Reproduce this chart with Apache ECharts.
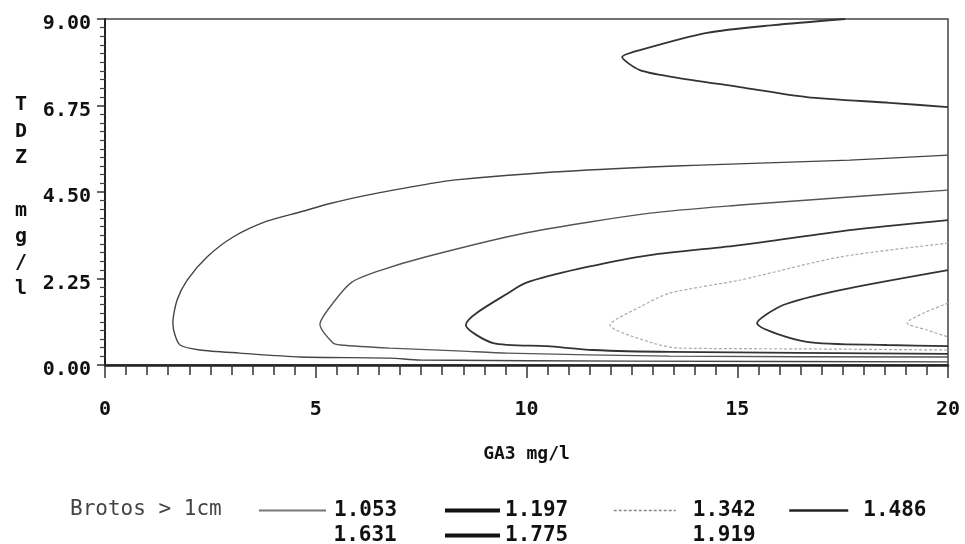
<!DOCTYPE html>
<html>
<head>
<meta charset="utf-8">
<script src="https://cdn.jsdelivr.net/npm/echarts@6/dist/echarts.min.js"></script>
<style>
html,body{margin:0;padding:0;background:#fff;}
#chart{width:965px;height:544px;}
</style>
</head>
<body>
<div id="chart"></div>
<script>
// ---- data ----
const levels = ['1.053', '1.197', '1.342', '1.486', '1.631', '1.775', '1.919'];
const xTicks = [0, 5, 10, 15, 20];
const yTicks = [0, 2.25, 4.5, 6.75, 9];

// contour lines, [GA3 mg/l, TDZ mg/l]
const c1053 = [[17.56,9.0],[15.85,8.84],[14.28,8.64],[12.69,8.19],[12.27,8.01],[12.69,7.67],[13.48,7.49],[15.07,7.23],[16.65,6.97],[18.62,6.82],[20,6.71]];
const c1197 = [[20,5.46],[17.67,5.33],[14.12,5.20],[12.93,5.15],[10.63,5.02],[8.26,4.81],[7.78,4.73],[6.22,4.42],[5.34,4.20],[4.63,3.98],[3.84,3.74],[3.04,3.33],[2.42,2.81],[1.95,2.21],[1.71,1.69],[1.61,1.09],[1.66,0.78],[1.78,0.52],[2.25,0.39],[3.20,0.31],[4.63,0.21],[6.76,0.18],[7.47,0.13],[12.53,0.10],[20,0.08]];
const c1342 = [[20,4.55],[17.67,4.37],[15.07,4.16],[12.93,3.95],[10.0,3.44],[7.60,2.81],[6.50,2.45],[5.85,2.15],[5.40,1.60],[5.10,1.06],[5.41,0.57],[5.58,0.52],[6.76,0.44],[8.49,0.36],[9.54,0.31],[13.40,0.23],[20,0.21]];
const c1486 = [[20,3.77],[17.67,3.51],[15.07,3.12],[12.93,2.86],[11.44,2.55],[10.1,2.18],[9.68,1.95],[8.56,1.04],[9.21,0.57],[10.49,0.49],[11.58,0.39],[13.40,0.34],[20,0.29]];
const c1631 = [[20,3.17],[17.44,2.81],[15.07,2.21],[13.40,1.87],[12.69,1.51],[11.98,1.04],[13.00,0.57],[13.64,0.44],[16.49,0.42],[20,0.39]];
const c1775 = [[20,2.47],[17.44,1.95],[16.09,1.56],[15.47,1.09],[16.65,0.60],[18.55,0.52],[20,0.49]];
const c1919 = [[20,1.61],[19.03,1.09],[19.50,0.91],[20,0.73]];
const contours = [c1053, c1197, c1342, c1486, c1631, c1775, c1919];

// ---- styles ----
const mono = 'DejaVu Sans Mono';
const lineStyles = [
  {color:'#333', width:1.8, type:'solid'},
  {color:'#444', width:1.4, type:'solid'},
  {color:'#555', width:1.4, type:'solid'},
  {color:'#333', width:1.8, type:'solid'},
  {color:'#aaa', width:1.2, type:[3,2]},
  {color:'#333', width:1.8, type:'solid'},
  {color:'#aaa', width:1.2, type:[3,2]}
];
const legendIcon = [
  {color:'#777', width:2, type:'solid', opacity:1},
  {color:'#111', width:4, type:'solid', opacity:1},
  {color:'#888', width:1.5, type:[3,2], opacity:1},
  {color:'#222', width:2.5, type:'solid', opacity:1},
  {color:'#fff', width:1, type:'solid', opacity:0},
  {color:'#111', width:4, type:'solid', opacity:1},
  {color:'#fff', width:1, type:'solid', opacity:0}
];
const legendPos = [
  {left:258, top:500, w:67, pad:3},
  {left:443, top:500, w:55, pad:0},
  {left:613, top:500, w:62, pad:12},
  {left:788, top:500, w:59, pad:10},
  {left:258, top:525, w:67, pad:3},
  {left:443, top:525, w:55, pad:0},
  {left:613, top:525, w:62, pad:12}
];

const chart = echarts.init(document.getElementById('chart'), null, {renderer:'canvas'});

const series = levels.map((lv, i) => ({
  name: lv,
  type: 'line',
  data: contours[i],
  symbol: 'none',
  showSymbol: false,
  smooth: 0.25,
  color: lineStyles[i].color,
  lineStyle: lineStyles[i],
  z: 3
}));

const legends = levels.map((lv, i) => ({
  data: [{name: lv, lineStyle: legendIcon[i], itemStyle: {opacity: 0}}],
  left: legendPos[i].left,
  top: legendPos[i].top,
  itemWidth: legendPos[i].w,
  itemHeight: 14,
  padding: 0,
  selectedMode: false,
  textStyle: {fontFamily: mono, fontWeight: 'bold', fontSize: 21, color: '#111', padding: [0,0,0,legendPos[i].pad]}
}));

chart.setOption({
  backgroundColor: '#fff',
  animation: false,
  grid: {left:105, right:17, top:19, bottom:179, show:true, borderColor:'#444', borderWidth:1.5, backgroundColor:'transparent'},
  xAxis: {
    type:'value', min:xTicks[0], max:xTicks[xTicks.length-1], interval:5,
    name:'GA3 mg/l', nameLocation:'middle', nameGap:80,
    nameTextStyle:{fontFamily:mono, fontSize:18, fontWeight:'bold', color:'#111'},
    axisLine:{show:true, onZero:false, lineStyle:{color:'#222', width:2.5}},
    axisTick:{show:true, inside:false, length:13, lineStyle:{color:'#333', width:1.5}},
    minorTick:{show:true, splitNumber:10, length:10, lineStyle:{color:'#333', width:1.5}},
    splitLine:{show:false},
    axisLabel:{margin:35, fontFamily:mono, fontWeight:'bold', fontSize:20, color:'#111',
      formatter: v => String(v)}
  },
  yAxis: {
    type:'value', min:yTicks[0], max:yTicks[yTicks.length-1], interval:2.25,
    axisLine:{show:true, onZero:false, lineStyle:{color:'#222', width:2}},
    axisTick:{show:true, inside:false, length:8, lineStyle:{color:'#333', width:1.5}},
    minorTick:{show:true, splitNumber:10, length:5, lineStyle:{color:'#444', width:1.2}},
    splitLine:{show:false},
    axisLabel:{margin:14, color:'#111',
      formatter: v => '{a|' + v.toFixed(2) + '}',
      rich:{a:{fontFamily:mono, fontWeight:'bold', fontSize:20, color:'#111', padding:[10,0,0,0]}}}
  },
  legend: legends,
  graphic: [
    {type:'text', left:15, top:92, style:{text:'T\nD\nZ\n\nm\ng\n/\nl', x:0, y:0, align:'center', font:'bold 20px "DejaVu Sans Mono"', lineHeight:26.3, fill:'#111'}},
    {type:'text', left:70, top:499, style:{text:'Brotos > 1cm', font:'21px "DejaVu Sans Mono"', fill:'#444'}}
  ],
  series: series
});
</script>
</body>
</html>
